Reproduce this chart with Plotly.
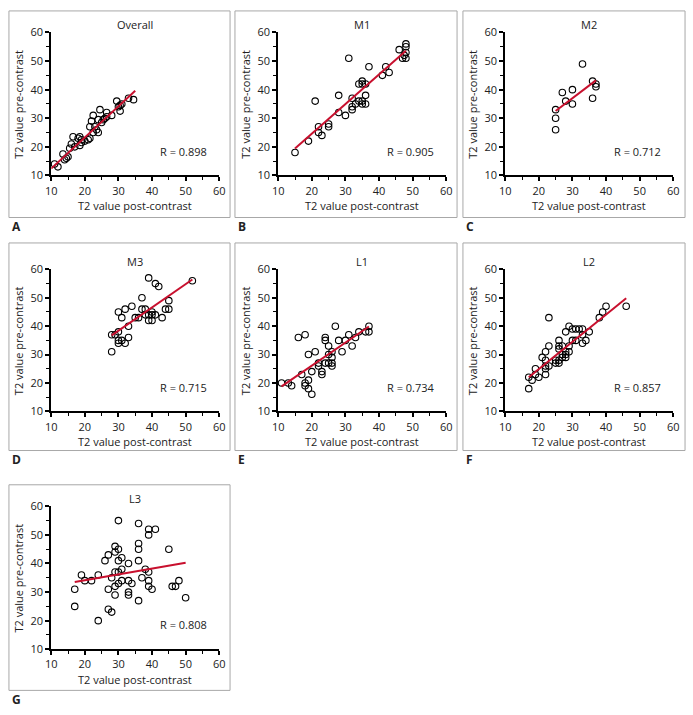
import plotly.graph_objects as go

W, H = 693, 715

panel_names = ["Overall", "M1", "M2", "M3", "L1", "L2", "L3"]
panel_letters = ["A", "B", "C", "D", "E", "F", "G"]
r_labels = ["R = 0.898", "R = 0.905", "R = 0.712", "R = 0.715", "R = 0.734", "R = 0.857", "R = 0.808"]

overall_x = [11, 12, 13.5, 14.5, 15, 15.5, 16, 16.5, 17, 18, 18.5, 19, 18.5, 19, 21, 21.5, 21.5, 22, 22.5, 22.5,
             23, 23.5, 24, 24.5, 25, 25.5, 26, 26.5, 26.5, 29.5, 30, 30.5, 30.5, 31, 33, 34.5, 14, 20, 24, 28]
overall_y = [14, 13, 17.5, 16, 16.5, 19.5, 21, 23.5, 20, 23, 20.5, 21.5, 23.5, 22.5, 22.5, 23, 27, 29, 31, 25,
             27, 26, 29.5, 33, 28.5, 29.5, 30, 32, 30.5, 36, 34, 32.5, 34.5, 35, 37, 36.5, 15.5, 22, 25, 31]

m1_x = [15, 19, 21, 22, 22, 23, 25, 25, 28, 28, 30, 31, 32, 32, 32, 33, 34, 34, 35, 35, 35, 35, 36, 36, 36,
        37, 41, 42, 43, 46, 47, 48, 48, 48, 48, 47.5]
m1_y = [18, 22, 36, 27, 25, 24, 28, 27, 38, 32, 31, 51, 37, 34, 33, 35, 42, 36, 43, 42, 36, 35, 42, 38, 35,
        48, 45, 48, 46, 54, 51, 56, 55, 53, 51, 52]

m2_x = [25, 25, 25, 27, 28, 30, 30, 33, 36, 36, 37, 37]
m2_y = [33, 30, 26, 39, 36, 40, 35, 49, 43, 37, 42, 41]

m3_x = [28, 28, 29, 30, 30, 30, 30, 31, 31, 32, 32, 33, 33, 34, 35, 36, 37, 37, 38, 38, 39, 39, 39, 40, 40,
        40, 41, 41, 42, 43, 44, 45, 45, 52]
m3_y = [31, 37, 37, 38, 35, 34, 45, 43, 35, 46, 34, 40, 36, 47, 43, 43, 50, 46, 46, 44, 57, 44, 42, 45, 44,
        42, 55, 44, 54, 43, 46, 49, 46, 56]

l1_x = [11, 13, 14, 16, 17, 18, 18, 18, 19, 19, 19, 20, 20, 21, 22, 22, 23, 23, 24, 24, 24, 25, 25, 25, 26,
        26, 26, 26, 27, 28, 29, 30, 31, 32, 33, 34, 36, 37, 37]
l1_y = [20, 20, 19, 36, 23, 37, 20, 19, 21, 18, 30, 24, 16, 31, 27, 26, 24, 23, 36, 35, 27, 33, 30, 27, 31,
        29, 27, 26, 40, 35, 31, 35, 37, 33, 36, 38, 38, 40, 38]

l2_x = [17, 17, 18, 19, 19, 20, 21, 22, 22, 22, 22, 22, 23, 23, 23, 25, 25, 26, 26, 26, 26, 26, 27, 27, 27,
        28, 28, 28, 28, 29, 29, 29, 30, 30, 31, 31, 32, 33, 33, 33, 34, 35, 38, 39, 40, 46]
l2_y = [22, 18, 21, 25, 23, 22, 29, 31, 28, 26, 25, 23, 43, 33, 26, 28, 27, 35, 33, 32, 28, 27, 33, 30, 29,
        38, 31, 30, 29, 40, 33, 31, 39, 35, 39, 35, 39, 39, 37, 34, 35, 38, 43, 45, 47, 47]

l3_x = [17, 17, 19, 20, 22, 24, 24, 26, 27, 27, 27, 28, 28, 29, 29, 29, 29, 29, 30, 30, 30, 30, 30, 31, 31,
        31, 33, 33, 33, 33, 34, 36, 36, 36, 36, 36, 37, 38, 39, 39, 39, 39, 39, 40, 41, 45, 46, 47, 48, 50]
l3_y = [31, 25, 36, 34, 34, 36, 20, 41, 43, 31, 24, 35, 23, 46, 44, 37, 32, 29, 55, 45, 41, 37, 33, 42, 38,
        34, 40, 34, 30, 29, 33, 54, 47, 45, 41, 27, 35, 38, 52, 50, 37, 34, 32, 31, 52, 45, 32, 32, 34, 28]

# fitted lines: slope, intercept, x-range
fit_slope = [1.09, 1.036, 0.89, 0.82, 0.81, 0.96, 0.206]
fit_intercept = [1.5, 3.9, 10.3, 13.8, 9.9, 5.7, 30.0]
fit_x0 = [10, 15, 25, 28, 11, 17, 17]
fit_x1 = [35, 48, 37, 52, 37, 46, 50]

xs = [overall_x, m1_x, m2_x, m3_x, l1_x, l2_x, l3_x]
ys = [overall_y, m1_y, m2_y, m3_y, l1_y, l2_y, l3_y]

axis_ticks = [10, 20, 30, 40, 50, 60]
minor_ticks = [15, 25, 35, 45, 55]
x_title = "T2 value post-contrast"
y_title = "T2 value pre-contrast"

# layout geometry in pixels
col_left = [0, 231, 462]
plot_off_x = (46, 217)
row_plot = [(25, 171), (267, 412), (509, 655)]
frames_x = [(3, 228), (233, 459), (465, 691)]
frames_y = [(3, 214), (240, 452), (487, 697)]

FONT = "Open Sans"
TXT = "#222"
fig = go.Figure()
layout = dict(width=W, height=H, margin=dict(l=0, r=0, t=0, b=0),
              paper_bgcolor="white", plot_bgcolor="white", showlegend=False)
annotations = []
shapes = []


def px2x(p):
    return p / W


def px2y(p):
    return 1 - p / H


for i in range(7):
    r, c = divmod(i, 3)
    n = i + 1
    xa = "xaxis" if n == 1 else f"xaxis{n}"
    ya = "yaxis" if n == 1 else f"yaxis{n}"
    xr = "x" if n == 1 else f"x{n}"
    yr = "y" if n == 1 else f"y{n}"
    x0p = col_left[c] + plot_off_x[0]
    x1p = col_left[c] + plot_off_x[1]
    ytop, ybot = row_plot[r]
    common = dict(range=[10, 60], tickvals=axis_ticks, showgrid=False, zeroline=False,
                  showline=True, linecolor="black", linewidth=2, ticks="outside", ticklen=4,
                  tickwidth=1.5, tickcolor="black",
                  minor=dict(tickvals=minor_ticks, ticks="outside", ticklen=3, tickwidth=1, tickcolor="black"),
                  tickfont=dict(family=FONT, size=11, color=TXT), fixedrange=True)
    layout[xa] = dict(common, domain=[px2x(x0p), px2x(x1p)], anchor=yr)
    layout[ya] = dict(common, domain=[px2y(ybot), px2y(ytop)], anchor=xr)

    fig.add_trace(go.Scatter(x=xs[i], y=ys[i], mode="markers", xaxis=xr, yaxis=yr,
                             marker=dict(symbol="circle-open", size=6.5, color="black",
                                         line=dict(width=1.1, color="black")),
                             cliponaxis=False))
    lx = [fit_x0[i], fit_x1[i]]
    ly = [fit_slope[i] * v + fit_intercept[i] for v in lx]
    fig.add_trace(go.Scatter(x=lx, y=ly, mode="lines", xaxis=xr, yaxis=yr,
                             line=dict(color="#c8102e", width=2)))

    fx0, fx1 = frames_x[c]
    fy0, fy1 = frames_y[r]
    shapes.append(dict(type="rect", xref="paper", yref="paper",
                       x0=px2x(fx0), x1=px2x(fx1), y0=px2y(fy1), y1=px2y(fy0),
                       line=dict(color="#a8a8a8", width=1)))
    annotations.append(dict(text=panel_names[i], xref="paper", yref="paper",
                            x=px2x((x0p + x1p) / 2), y=px2y(ytop - 8), showarrow=False,
                            font=dict(family=FONT, size=11, color=TXT), xanchor="center", yanchor="middle"))
    annotations.append(dict(text=r_labels[i], xref=xr, yref=yr, x=49.5, y=18.5, showarrow=False,
                            font=dict(family=FONT, size=11, color=TXT), xanchor="center", yanchor="middle"))
    annotations.append(dict(text=x_title, xref="paper", yref="paper",
                            x=px2x((x0p + x1p) / 2), y=px2y(ybot + 31), showarrow=False,
                            font=dict(family=FONT, size=11, color=TXT), xanchor="center", yanchor="middle"))
    annotations.append(dict(text=y_title, xref="paper", yref="paper",
                            x=px2x(col_left[c] + 13), y=px2y((ytop + ybot) / 2), showarrow=False, textangle=-90,
                            font=dict(family=FONT, size=11, color=TXT), xanchor="center", yanchor="middle"))
    annotations.append(dict(text="<b>" + panel_letters[i] + "</b>", xref="paper", yref="paper",
                            x=px2x(fx0 + 1), y=px2y(fy1 + 9), showarrow=False,
                            font=dict(family=FONT, size=12, color=TXT), xanchor="left", yanchor="middle"))

layout["annotations"] = annotations
layout["shapes"] = shapes
fig.update_layout(**layout)
fig.write_html("out.html", config={"displayModeBar": False},
               post_script="document.body.style.margin='0';document.body.style.padding='0';")
